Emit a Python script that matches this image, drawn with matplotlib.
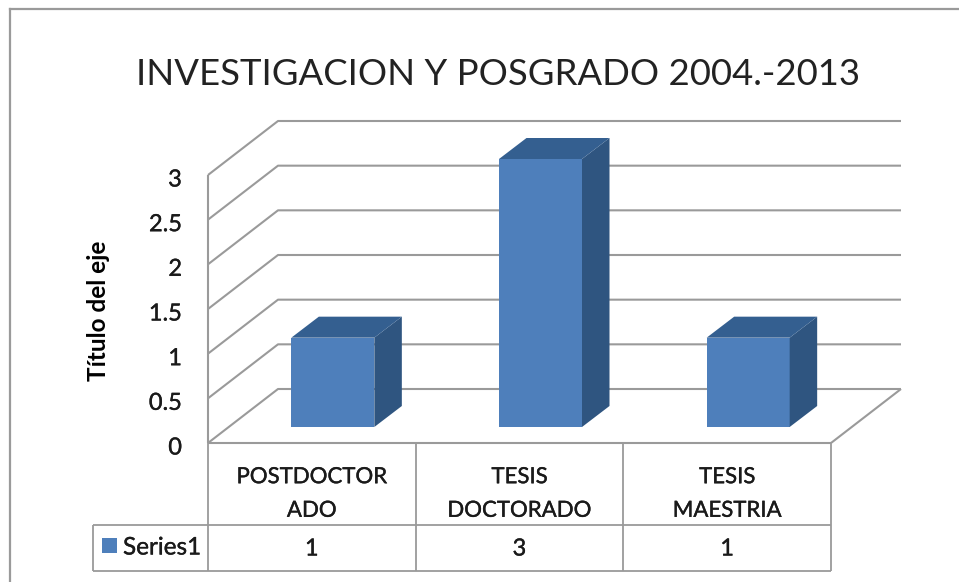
"""3D-look column chart with data table, drawn on a flat axes in data units."""
import matplotlib
matplotlib.use("Agg")
import matplotlib.pyplot as plt
import matplotlib.patheffects as pe
from matplotlib.patches import Polygon, Rectangle

categories = ["POSTDOCTOR\nADO", "TESIS\nDOCTORADO", "TESIS\nMAESTRIA"]
values = [1, 3, 1]
series_name = "Series1"
y_ticks = [0, 0.5, 1, 1.5, 2, 2.5, 3]
y_tick_labels = ["0", "0.5", "1", "1.5", "2", "2.5", "3"]
title = "INVESTIGACION Y POSGRADO 2004.-2013"
y_title = "Título del eje"

W, H = 959, 582
LEFT, RIGHT, BASE, TOP = 208, 831, 443, 175  # front plane, pixels
GRAY = "#9a9a9a"
FRONT, SIDE, LID = "#4e7fbb", "#2f5580", "#345f90"
INK = "#1a1a1a"
HEAVY = [pe.withStroke(linewidth=0.25, foreground=INK)]

plt.rcParams["font.family"] = ["Lato", "DejaVu Sans"]
fig = plt.figure(figsize=(W / 100, H / 100), dpi=100)
ax = fig.add_axes([LEFT / W, 1 - BASE / H, (RIGHT - LEFT) / W, (BASE - TOP) / H])
ax.set_xlim(0, len(categories))
ax.set_ylim(0, 3)
ax.axis("off")

px = len(categories) / (RIGHT - LEFT)  # data units per pixel
py = 3 / (BASE - TOP)

# wall depth and bar placement inside it
dx, dy = 70 * px, 54 * py
bar_w = 83 * px
bar_dx, bar_dy = 27.5 * px, 21 * py
bar_x0, bar_y0 = 21 * px, 16 * py


def line(xs, ys, lw=1.5):
    ax.plot(xs, ys, color=GRAY, lw=lw, clip_on=False, solid_capstyle="butt", zorder=1)


# back gridlines plus the slanted side wall
for t in y_ticks:
    line([0, dx, 3 + dx], [t, t + dy, t + dy])
line([0, 0], [0, 3])
line([3, 3 + dx], [0, dy])

# columns
for i, v in enumerate(values):
    x0 = i + 0.5 + bar_x0 - bar_w / 2
    y0 = bar_y0
    x1 = x0 + bar_w
    y1 = y0 + v
    ax.add_patch(Rectangle((x0, y0), bar_w, v, fc=FRONT, ec="none", clip_on=False, zorder=3))
    ax.add_patch(Polygon([(x1, y0), (x1 + bar_dx, y0 + bar_dy), (x1 + bar_dx, y1 + bar_dy), (x1, y1)],
                         fc=SIDE, ec="none", clip_on=False, zorder=3))
    ax.add_patch(Polygon([(x0, y1), (x1, y1), (x1 + bar_dx, y1 + bar_dy), (x0 + bar_dx, y1 + bar_dy)],
                         fc=LID, ec="none", clip_on=False, zorder=3))

# y tick labels and axis title
for t, lab in zip(y_ticks, y_tick_labels):
    ax.text(-26 * px, t - 5 * py, lab, ha="right", va="center", fontsize=17, color=INK, clip_on=False,
            path_effects=HEAVY)
fig.text(98 / W, 1 - 311 / H, y_title, rotation=90, ha="center", va="center",
         fontsize=17.5, fontweight="bold", color="black")

# data table below the floor
row1 = BASE + 82
row2 = 571


def py_y(p):
    return (BASE - p) * py


line([0, 3], [0, 0], 1.5)
line([-115 * px, 3], [py_y(row1)] * 2, 1.3)
line([-115 * px, 3], [py_y(row2)] * 2, 1.3)
line([-115 * px, -115 * px], [py_y(row1), py_y(row2)], 1.3)
for i in range(len(categories) + 1):
    line([i, i], [0, py_y(row2)], 1.3)

for i, (c, v) in enumerate(zip(categories, values)):
    ax.text(i + 0.5, py_y(BASE + 51), c, ha="center", va="center", fontsize=16, linespacing=1.85,
            color=INK, clip_on=False, path_effects=HEAVY)
    ax.text(i + 0.5, py_y((row1 + row2) / 2 + 1), str(v), ha="center", va="center", fontsize=17,
            color=INK, clip_on=False, path_effects=HEAVY)
ax.add_patch(Rectangle((-106 * px, py_y(553)), 15 * px, 15 * py, fc=FRONT, ec="none", clip_on=False))
ax.text(-85 * px, py_y((row1 + row2) / 2), series_name, ha="left", va="center", fontsize=17.5,
        color=INK, clip_on=False, path_effects=HEAVY)

# chart border: only the top and left edges are in frame
fig.add_artist(plt.Line2D([10 / W, 10 / W], [0, 1 - 9 / H], color=GRAY, lw=1.6))
fig.add_artist(plt.Line2D([10 / W, 1], [1 - 9 / H, 1 - 9 / H], color=GRAY, lw=1.6))

fig.text(498.5 / W, 1 - 85 / H, title, ha="center", va="baseline", fontsize=26.3, color="#222222")

fig.savefig("out.png", dpi=100)
